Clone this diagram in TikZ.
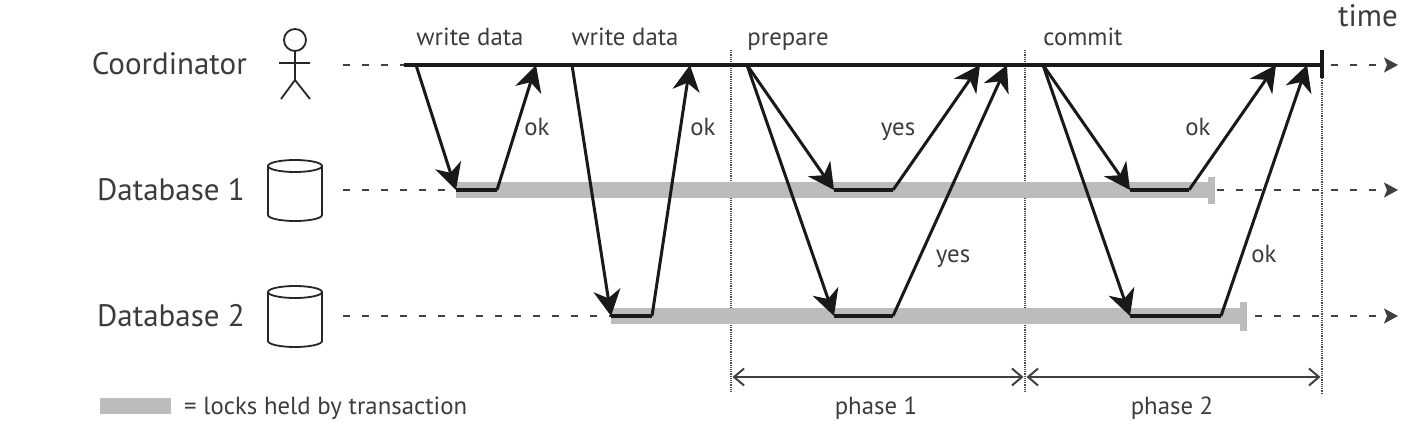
\documentclass[tikz,border=0pt]{standalone}
\usepackage{fontspec}
\setmainfont{PT Sans}
\usetikzlibrary{arrows.meta}
\definecolor{lockColor}{RGB}{188,188,188}
\definecolor{labelColor}{RGB}{60,60,60}
\tikzstyle{timeline} = [x = 1pt, y = -1pt, every node/.style={inner sep=0pt, text=labelColor}]
\tikzstyle{msgStyle} = [color=black!90, line width=3pt, -{Stealth[length=26pt,width=27pt,inset=8pt]}]
\tikzstyle{restStyle} = [color=black!90, line width=3.2pt]
\tikzstyle{lockStyle} = [color=lockColor, line width=16pt]
\tikzstyle{capStyle} = [color=lockColor, line width=7pt]
\tikzstyle{idleStyle} = [color=black!75, line width=1.3pt, dash pattern=on 7pt off 12pt, -{Stealth[length=14pt,width=15pt,inset=3pt]}]
\tikzstyle{phaseLine} = [color=black!70, line width=1.2pt, densely dotted]
\tikzstyle{phaseArrow} = [color=black!75, line width=2pt, shorten >=1.5pt, shorten <=1.5pt, {Straight Barb[length=10pt,width=17pt]}-{Straight Barb[length=10pt,width=17pt]}]
\tikzstyle{bigText} = [font=\fontsize{31}{33}\selectfont]
\tikzstyle{smallText} = [font=\fontsize{24.8}{26}\selectfont, anchor=base]
\tikzstyle{iconStyle} = [color=black!85, line width=1.8pt]
\newcommand{\exchange}[6]{
  \coordinate (#1Start) at (#2, 65);
  \coordinate (#1Arrive) at (#3, #6);
  \coordinate (#1Leave) at (#4, #6);
  \coordinate (#1Back) at (#5, 65);
  \draw [msgStyle] (#1Start) -- (#1Arrive);
  \draw [restStyle] (#1Arrive) -- (#1Leave);
  \draw [msgStyle] (#1Leave) -- (#1Back);
}
\newcommand{\database}[1]{
  \draw [iconStyle] (268, #1 - 24) arc [start angle=180, end angle=-180, x radius=27, y radius=6]
    -- (268, #1 + 25) arc [start angle=180, end angle=0, x radius=27, y radius=6]
    -- (322, #1 - 24);
}
\newcommand{\idleLine}[2]{
  \coordinate (#1Idle) at (343, #2);
  \coordinate (#1End) at (1398, #2);
  \draw [idleStyle] (#1Idle) -- (#1End);
}
\begin{document}
\begin{tikzpicture}[timeline]
  \useasboundingbox (0,0) rectangle (1414,431);

  % names on the left
  \node [bigText, anchor=base east] (coordinatorName) at (247, 74) {Coordinator};
  \node [bigText, anchor=base east] (databaseOneName) at (245, 200) {Database 1};
  \node [bigText, anchor=base east] (databaseTwoName) at (245, 326) {Database 2};

  % stick figure
  \draw [iconStyle] (295, 40) circle (11);
  \draw [iconStyle] (295, 51) -- (295, 80) -- (281, 99) (295, 80) -- (310, 99) (279, 63) -- (310, 63);
  \database{190}
  \database{316}

  % idle parts of the time lines
  \idleLine{coordinator}{65}
  \idleLine{databaseOne}{190}
  \idleLine{databaseTwo}{316}

  % phase limits
  \coordinate (phaseOneTop) at (731, 50);
  \coordinate (phaseOneBottom) at (731, 393);
  \coordinate (phaseTwoTop) at (1025, 50);
  \coordinate (phaseTwoBottom) at (1025, 393);
  \coordinate (phaseEndTop) at (1322, 78);
  \coordinate (phaseEndBottom) at (1322, 393);
  \draw [phaseLine] (phaseOneTop) -- (phaseOneBottom);
  \draw [phaseLine] (phaseTwoTop) -- (phaseTwoBottom);
  \draw [phaseLine] (phaseEndTop) -- (phaseEndBottom);

  % locks
  \draw [lockStyle] (456, 190) -- (1212, 190);
  \draw [capStyle] (1211.5, 177) -- (1211.5, 204);
  \draw [lockStyle] (611, 316) -- (1243, 316);
  \draw [capStyle] (1243.5, 302) -- (1243.5, 331);

  % coordinator line
  \coordinate (coordinatorStart) at (404, 65);
  \coordinate (coordinatorEnd) at (1322, 65);
  \draw [restStyle] (coordinatorStart) -- (coordinatorEnd);
  \draw [restStyle] (1322, 50) -- (1322, 78);

  \exchange{writeOne}{416}{456}{497}{536}{190}
  \exchange{writeTwo}{572}{611}{652}{690}{316}
  \exchange{prepareOne}{747}{834}{893}{980}{190}
  \exchange{prepareTwo}{747}{834}{893}{1007}{316}
  \exchange{commitOne}{1043}{1130}{1189}{1276}{190}
  \exchange{commitTwo}{1043}{1130}{1221}{1307}{316}

  % labels
  \node [smallText] (writeOneText) at (470, 45) {write data};
  \node [smallText] (writeTwoText) at (625, 45) {write data};
  \node [smallText] (prepareText) at (788, 45) {prepare};
  \node [smallText] (commitText) at (1083, 45) {commit};
  \node [bigText, anchor=base] (timeText) at (1368, 27) {time};
  \node [smallText] (okOne) at (537, 135) {ok};
  \node [smallText] (okTwo) at (703, 135) {ok};
  \node [smallText] (yesOne) at (898, 135) {yes};
  \node [smallText] (yesTwo) at (953, 262) {yes};
  \node [smallText] (okThree) at (1198, 135) {ok};
  \node [smallText] (okFour) at (1264, 262) {ok};

  % phases
  \draw [phaseArrow] (731, 377) -- (1025, 377);
  \draw [phaseArrow] (1025, 377) -- (1322, 377);
  \node [smallText] (phaseOneText) at (876, 414) {phase 1};
  \node [smallText] (phaseTwoText) at (1172, 414) {phase 2};

  % legend
  \fill [lockColor] (100, 398) rectangle (171, 414);
  \node [smallText, anchor=base west] (legendText) at (184, 414) {= locks held by transaction};
\end{tikzpicture}
\end{document}
